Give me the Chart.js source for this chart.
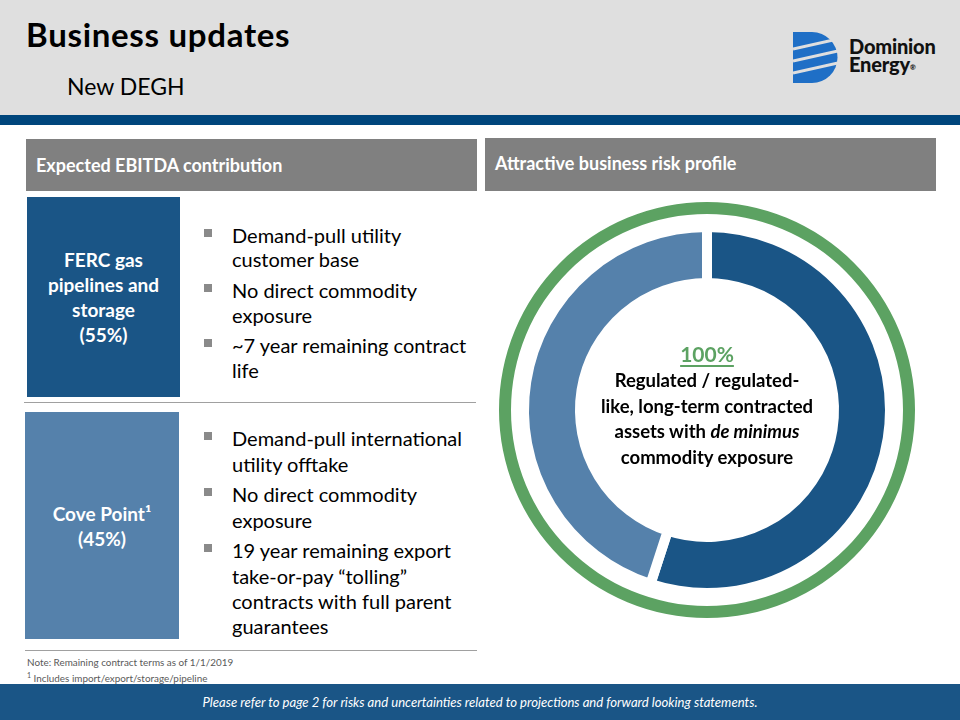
<!DOCTYPE html>
<html>
<head>
<meta charset="utf-8">
<script src="https://cdn.jsdelivr.net/npm/chart.js@4.4.1/dist/chart.umd.min.js"></script>
<style>
  body { margin: 0; width: 960px; height: 720px; position: relative; background: #fff; font-family: Lato, "Open Sans", sans-serif; overflow: hidden; }
  .abs { position: absolute; white-space: nowrap; }
  #top { left: 0; top: 0; width: 960px; height: 115px; background: #dfdfdf; }
  #band { left: 0; top: 115px; width: 960px; height: 10px; background: #00467c; }
  .bar { background: #808080; color: #fff; font-weight: bold; font-size: 18px; display: flex; align-items: center; }
  .box { color: #fff; font-weight: bold; font-size: 19px; line-height: 25px; text-align: center; display: flex; align-items: center; justify-content: center; }
  .rule { height: 0; border-top: 1.5px solid #a0a0a0; }
  .bl { font-size: 20px; color: #000; }
  .sq { width: 8px; height: 8px; background: #8a8a8a; }
</style>
</head>
<body>
<div id="top" class="abs"></div>
<div id="band" class="abs"></div>

<div class="abs" style="left:26px;top:16px;font-size:33px;line-height:36px;font-weight:bold;color:#000;letter-spacing:0.7px">Business updates</div>
<div class="abs" style="left:67px;top:71px;font-size:23px;line-height:30px;color:#000">New DEGH</div>

<svg class="abs" style="left:793px;top:32px" width="45" height="51" viewBox="0 0 45 51">
  <path d="M0,0 H19 A25.5,25.5 0 0 1 19,51 H0 Z" fill="#1f6fc6"/>
  <path d="M0,17 L45,7 M0,29 L45,19 M0,41 L45,31" stroke="#dfdfdf" stroke-width="3"/>
</svg>
<div class="abs" style="left:849px;top:36px;font-size:20px;line-height:20px;font-weight:900;color:#111;letter-spacing:-0.2px">Dominion</div>
<div class="abs" style="left:849px;top:54px;font-size:20px;line-height:20px;font-weight:900;color:#111;letter-spacing:-0.2px">Energy<span style="font-size:7px;vertical-align:top;position:relative;top:3px">®</span></div>

<div class="abs bar" style="left:26px;top:139px;width:451px;height:52px"><span style="margin-left:10px">Expected EBITDA contribution</span></div>
<div class="abs bar" style="left:485px;top:138px;width:451px;height:53px"><span style="margin-left:10px;margin-top:-3px">Attractive business risk profile</span></div>

<div class="abs box" style="left:27px;top:197px;width:153px;height:200px;background:#1a5586"><div id="box1"></div></div>
<div class="abs rule" style="left:24px;top:402px;width:452px"></div>
<div class="abs box" style="left:25px;top:412px;width:154px;height:227px;background:#5581ab"><div id="box2"></div></div>
<div class="abs rule" style="left:25px;top:650px;width:452px"></div>

<div id="bul1"></div>
<div id="bul2"></div>

<div class="abs" style="left:27px;top:656px;font-size:9.9px;line-height:13px;color:#595959">Note: Remaining contract terms as of 1/1/2019<br><sup style="font-size:7px">1</sup> Includes import/export/storage/pipeline</div>

<div class="abs" style="left:0;top:684px;width:960px;height:36px;background:#1a5586"></div>
<div class="abs" style="left:0;top:692px;width:960px;text-align:center;font-size:13.1px;line-height:20px;font-style:italic;color:#fff">Please refer to page 2 for risks and uncertainties related to projections and forward looking statements.</div>

<div class="abs" style="left:499px;top:202px;width:416px;height:416px"><canvas id="ring" width="416" height="416"></canvas></div>

<div class="abs" style="left:557px;top:340px;width:300px;text-align:center;color:#000;font-weight:bold">
  <div style="font-size:21px;line-height:28px;color:#5ca262;text-decoration:underline;text-underline-offset:3px">100%</div>
  <div style="font-size:18.5px;line-height:25.5px">Regulated / regulated-<br>like, long-term contracted<br>assets with <i>de minimus</i><br>commodity exposure</div>
</div>

<script>
// EBITDA split
const segments = ['FERC gas pipelines and storage', 'Cove Point¹'];
const shares = [55, 45];
// share of business that is regulated / contracted
const regulated = [100];

const boxLines1 = ['FERC gas', 'pipelines and', 'storage', '(55%)'];
const boxLines2 = ['Cove Point¹', '(45%)'];

const bullets1 = [
  ['Demand-pull utility', 'customer base'],
  ['No direct commodity', 'exposure'],
  ['~7 year remaining contract', 'life']
];
const bullets2 = [
  ['Demand-pull international', 'utility offtake'],
  ['No direct commodity', 'exposure'],
  ['19 year remaining export', 'take-or-pay “tolling”', 'contracts with full parent', 'guarantees']
];

const darkBlue = '#1a5586';
const lightBlue = '#5581ab';
const green = '#5ca262';

document.getElementById('box1').innerHTML = boxLines1.join('<br>');
document.getElementById('box2').innerHTML = boxLines2.join('<br>');

function drawBullets(id, list, firstBase, lineGap, paraGap) {
  let el = document.getElementById(id);
  let html = '';
  let base = firstBase;
  list.forEach(function(par) {
    html += '<div class="abs sq" style="left:204px;top:' + (base - 14) + 'px"></div>';
    par.forEach(function(line, i) {
      // baseline = top + lh/2 + 0.387*fs
      let top = base - 12 - 7.74;
      html += '<div class="abs bl" style="left:232px;top:' + top + 'px;line-height:24px">' + line + '</div>';
      if (i < par.length - 1) base += lineGap;
    });
    base += paraGap;
  });
  el.innerHTML = html;
}
drawBullets('bul1', bullets1, 242.5, 24.5, 30.8);
drawBullets('bul2', bullets2, 446, 25.3, 30.7);

new Chart(document.getElementById('ring'), {
  type: 'doughnut',
  data: {
    labels: segments,
    datasets: [
      {
        label: 'Regulated / contracted',
        data: regulated,
        backgroundColor: green,
        borderWidth: 0,
        hoverBorderWidth: 0,
        weight: 12
      },
      {
        label: '',
        data: regulated,
        backgroundColor: 'rgba(0,0,0,0)',
        borderWidth: 0,
        hoverBorderWidth: 0,
        weight: 13
      },
      {
        label: 'Expected EBITDA contribution',
        data: shares,
        backgroundColor: [darkBlue, lightBlue],
        borderColor: '#fff',
        borderWidth: 10,
        borderJoinStyle: 'miter',
        weight: 56
      }
    ]
  },
  options: {
    responsive: false,
    animation: false,
    events: [],
    cutout: 127,
    rotation: 0,
    layout: { padding: 0 },
    plugins: {
      legend: { display: false },
      tooltip: { enabled: false }
    }
  }
});
</script>
</body>
</html>
